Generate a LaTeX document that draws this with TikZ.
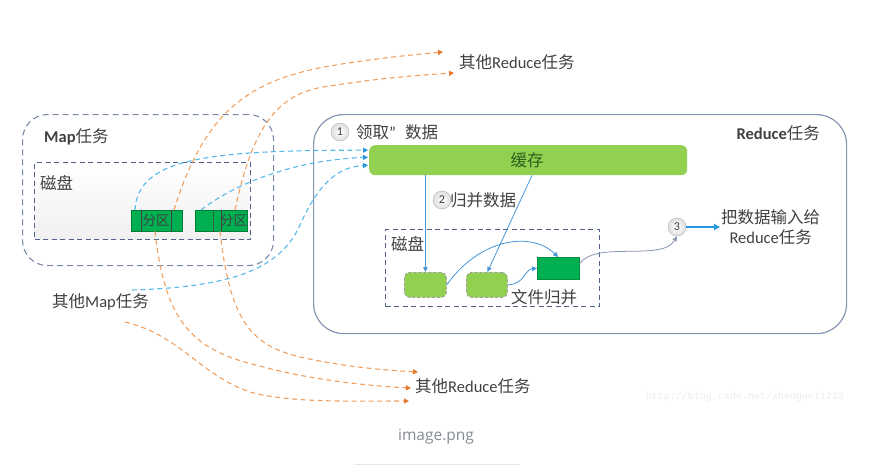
\documentclass[tikz,border=0pt]{standalone}
\usepackage{fontspec}
\setmainfont{Carlito}
\newfontfamily\cjk{Noto Sans CJK SC}
\newfontfamily\wmfont{Liberation Mono}
\newfontfamily\capfont{Open Sans}
\usetikzlibrary{arrows.meta,calc}
\newcommand\zh[1]{{\cjk #1}}
\definecolor{txt}{RGB}{64,64,64}
\definecolor{mapline}{RGB}{120,138,168}
\definecolor{diskline}{RGB}{80,98,140}
\definecolor{redline}{RGB}{132,151,176}
\definecolor{dgreen}{RGB}{0,176,80}
\definecolor{lgreen}{RGB}{146,208,80}
\definecolor{dashblue}{RGB}{85,185,235}
\definecolor{tipblue}{RGB}{40,150,225}
\definecolor{dashorange}{RGB}{241,160,95}
\definecolor{tiporange}{RGB}{230,120,45}
\definecolor{solidblue}{RGB}{70,150,215}
\definecolor{curvegray}{RGB}{135,150,175}
\definecolor{cachetxt}{RGB}{45,95,30}
\tikzset{
  boxnode/.style={inner sep=0pt, anchor=north west},
  lbl/.style={text=txt, inner sep=1pt},
  numc/.style={circle, draw=gray!60, inner sep=0pt, minimum size=18pt, inner color=white, outer color=gray!25, font=\fontsize{12}{12}\selectfont, text=txt},
  dblue/.style={draw=dashblue, line width=1.1pt, dash pattern=on 5pt off 3.5pt, -{Triangle[length=5pt,width=5pt,color=tipblue]}},
  dorange/.style={draw=dashorange, line width=1.1pt, dash pattern=on 5pt off 3.5pt, -{Triangle[length=5pt,width=5pt,color=tiporange]}},
  sblue/.style={draw=solidblue, line width=0.8pt, -{Triangle[length=5pt,width=4.5pt]}},
  partbox/.style={boxnode, fill=dgreen, draw=dgreen!70!black, line width=0.3pt, minimum height=21pt},
  seglbl/.style={text=black!75, font=\fontsize{13.5}{13.5}\selectfont\cjk, inner sep=0pt}
}
\begin{document}
\begin{tikzpicture}[x=1pt,y=-1pt, font=\fontsize{16.5}{19.5}\selectfont]
\useasboundingbox (0,0) rectangle (883,471);

% ---------- Map task ----------
\node[boxnode, draw=mapline, line width=1.1pt, dash pattern=on 6pt off 4pt, rounded corners=25pt, minimum width=251pt, minimum height=151pt] (mapbox) at (22,114) {};
\node[lbl, anchor=west] (maplbl) at (43,137) {\textbf{Map}\zh{任务}};
\node[boxnode, draw=diskline, line width=1.1pt, dash pattern=on 5pt off 3.5pt, top color=white, bottom color=gray!12, minimum width=216pt, minimum height=77pt] (mapdisk) at (34,162) {};
\node[lbl, anchor=west] (mapdisklbl) at (39,183) {\zh{磁盘}};

\node[partbox, minimum width=51pt] (p1) at (131,210) {};
\draw[black!75, line width=0.6pt] ($(p1.north west)+(10,0)$) -- ($(p1.south west)+(10,0)$);
\draw[black!75, line width=0.6pt] ($(p1.north west)+(40,0)$) -- ($(p1.south west)+(40,0)$);
\node[seglbl] (p1t) at ($(p1.center)+(-0.5,0)$) {分区};

\node[partbox, minimum width=52pt] (p2) at (195,210) {};
\draw[black!75, line width=0.5pt, densely dotted] ($(p2.north west)+(18,0)$) -- ($(p2.south west)+(18,0)$);
\draw[black!75, line width=0.6pt] ($(p2.north west)+(26,0)$) -- ($(p2.south west)+(26,0)$);
\node[seglbl] (p2t) at ($(p2.center)+(12.5,0)$) {分区};

\node[lbl, anchor=west] (othermap) at (51,302) {\zh{其他}Map\zh{任务}};

% ---------- Reduce task ----------
\node[boxnode, draw=redline, line width=1.2pt, rounded corners=30pt, minimum width=533pt, minimum height=219pt] (redbox) at (313,114) {};
\node[lbl, anchor=east] (redlbl) at (821,133) {\textbf{Reduce}\zh{任务}};
\node[numc] (c1) at (340,132) {1};
\node[lbl, anchor=west] (fetch) at (355,132) {\zh{领取}\textquotedblright\hspace{9pt}\zh{数据}};

\node[boxnode, fill=lgreen, rounded corners=6pt, minimum width=318pt, minimum height=30pt] (cache) at (369,145) {};
\node[text=cachetxt, inner sep=0pt] (cachelbl) at (527,160) {\zh{缓存}};

\node[numc] (c2) at (442,200) {2};
\node[lbl, anchor=west] (merge) at (449,200) {\zh{归并数据}};

\node[boxnode, draw=diskline, line width=1.1pt, dash pattern=on 5pt off 3.5pt, minimum width=214pt, minimum height=77pt] (reddisk) at (385,229) {};
\node[lbl, anchor=west] (reddisklbl) at (390,244) {\zh{磁盘}};

\node[boxnode, fill=lgreen, draw=gray!75, dash pattern=on 3pt off 2pt, line width=0.8pt, rounded corners=5pt, minimum width=42pt, minimum height=25pt] (g1) at (404,272) {};
\node[boxnode, fill=lgreen, draw=gray!75, dash pattern=on 3pt off 2pt, line width=0.8pt, rounded corners=5pt, minimum width=41pt, minimum height=25pt] (g2) at (466,272) {};
\node[boxnode, fill=dgreen, draw=dgreen!80!black, line width=0.3pt, minimum width=42pt, minimum height=22pt] (d) at (537,257) {};
\node[lbl, anchor=west] (filemerge) at (510,297) {\zh{文件归并}};

\node[numc] (c3) at (677,227) {3};
\node[lbl, align=center, anchor=west] (output) at (720,227) {\zh{把数据输入给}\\Reduce\zh{任务}};

% ---------- connectors inside Reduce ----------
\coordinate (cacheB) at ($(cache.south west)+(163,0)$);
\draw[sblue] (g1.north |- cache.south) -- (g1.north);
\draw[sblue] (cacheB) -- ($(g2.north)+(0.5,0)$);
\draw[sblue] (g1.east) .. controls (478,240) and (530,230) .. (d.north);
\draw[sblue] (g2.east) .. controls (525,284) and (524,270) .. (d.west);
\draw[draw=curvegray, line width=0.8pt, -{Triangle[length=5pt,width=4.5pt]}] ($(d.east)+(0,-4)$) .. controls (595,240) and (662,262) .. (c3.south);
\draw[draw=tipblue, line width=1.6pt, -{Triangle[length=6pt,width=6pt]}] (c3.east) -- (output.west);

% ---------- shuffle: blue dashed into cache ----------
\draw[dblue] ($(p1.north west)+(4,0)$) .. controls (138,160) and (200,150) .. ($(cache.west)+(-1,-10)$);
\draw[dblue] ($(p2.north west)+(6,0)$) .. controls (240,180) and (300,160) .. ($(cache.west)+(-1,-3)$);
\coordinate (om1) at (132,290);
\coordinate (omid) at (300,225);
\draw[dblue] (om1) .. controls (230,287) and (280,270) .. (omid) .. controls (320,180) and (340,167) .. ($(cache.west)+(-1,5)$);

% ---------- orange dashed to other reducers ----------
\node[lbl, anchor=west] (otherTop) at (458,62) {\zh{其他}Reduce\zh{任务}};
\node[lbl, anchor=west] (otherBot) at (414,386) {\zh{其他}Reduce\zh{任务}};
\coordinate (ta) at (443,52);
\coordinate (tb) at (454,73);
\coordinate (ba) at (418,372);
\coordinate (bb) at (411,388);
\coordinate (bc) at (409,401);
\draw[dorange] ($(p1.north west)+(43,0)$) .. controls (205,110) and (250,80) .. (330,66) .. controls (370,59) and (410,55) .. (ta);
\draw[dorange] ($(p2.north west)+(40,0)$) .. controls (253,125) and (278,92) .. (330,86) .. controls (380,78) and (420,75) .. (tb);
\draw[dorange] ($(p1.south west)+(24,0)$) .. controls (165,320) and (190,350) .. (260,366) .. controls (310,380) and (370,386) .. (bb);
\draw[dorange] ($(p2.south west)+(25,0)$) .. controls (230,320) and (250,345) .. (300,357) .. controls (340,366) and (380,370) .. (ba);
\coordinate (om2) at (125,322);
\draw[dorange] (om2) .. controls (180,335) and (200,375) .. (250,392) .. controls (290,403) and (350,401) .. (bc);

% ---------- watermark & caption ----------
\node[text=gray!15, font=\fontsize{10}{10}\selectfont\wmfont, inner sep=0pt] (wm) at (745,397) {http://blog.csdn.net/zhengwei1223};
\node[text={rgb,255:red,135;green,140;blue,150}, font=\fontsize{15.5}{15.5}\selectfont\capfont, inner sep=0pt] (cap) at (436,437) {image.png};
\coordinate (capL) at (355,464);
\coordinate (capR) at (520,464);
\draw[gray!20, line width=0.8pt] (capL) -- (capR);
\end{tikzpicture}
\end{document}
